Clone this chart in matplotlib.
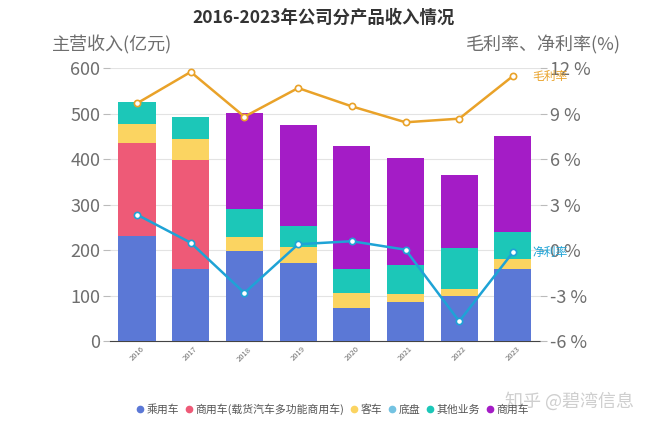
import matplotlib
matplotlib.use("Agg")
import matplotlib.pyplot as plt
from matplotlib.lines import Line2D

plt.rcParams['font.family'] = ['Noto Sans CJK SC', 'DejaVu Sans']

years = ['2016', '2017', '2018', '2019', '2020', '2021', '2022', '2023']
series_names = ['乘用车', '商用车(载货汽车多功能商用车)', '客车', '底盘', '其他业务', '商用车']
passenger = [231, 159, 198, 172, 72, 86, 100, 158]
commercial_old = [205, 239, 0, 0, 0, 0, 0, 0]
bus = [40, 45, 31, 34, 33, 17, 14, 22]
chassis = [0, 0, 0, 0, 0, 0, 0, 0]
other = [50, 49, 61, 47, 54, 65, 90, 59]
commercial = [0, 0, 212, 221, 270, 235, 161, 211]
gross_margin = [9.67, 11.74, 8.79, 10.68, 9.47, 8.42, 8.66, 11.47]
net_margin = [2.33, 0.48, -2.83, 0.38, 0.58, 0.02, -4.70, -0.15]
left_ticks = [0, 100, 200, 300, 400, 500, 600]
right_ticks = [-6, -3, 0, 3, 6, 9, 12]

colors = ['#5B78D6', '#EE5A77', '#FBD461', '#74C3E2', '#1CC7B8', '#A41CC6']
gm_color = '#E9A229'
nm_color = '#1EA3D6'
grey = '#6E6E6E'

fig = plt.figure(figsize=(6.48, 4.32), dpi=100)
ax = fig.add_axes([0.170, 0.2106, 0.663, 0.632])
ax2 = ax.twinx()

x = list(range(len(years)))
data = [passenger, commercial_old, bus, chassis, other, commercial]
bottom = [0] * len(years)
for vals, c in zip(data, colors):
    ax.bar(x, vals, bottom=bottom, width=0.69, color=c, zorder=3)
    bottom = [b + v for b, v in zip(bottom, vals)]

ax.set_xlim(-0.5, 7.5)
ax.set_ylim(0, 600)
ax.set_yticks(left_ticks)
ax.set_yticklabels([str(t) for t in left_ticks], fontsize=13, color=grey)
ax.set_xticks(x)
ax.set_xticklabels(years, rotation=45, fontsize=5.5, color=grey)
ax.grid(axis='y', color='#E3E3E3', linewidth=0.8, zorder=0)
for s in ['top', 'right', 'left']:
    ax.spines[s].set_visible(False)
ax.spines['bottom'].set_color('#444444')
ax.tick_params(axis='y', length=5, color='#BBBBBB', pad=2)
ax.tick_params(axis='x', length=0, pad=3)

ax2.plot(x, gross_margin, color=gm_color, lw=1.8, marker='o', ms=4.5,
         mfc='white', mec=gm_color, mew=1.2, zorder=5)
ax2.plot(x, net_margin, color=nm_color, lw=1.8, marker='o', ms=4.5,
         mfc='white', mec=nm_color, mew=1.2, zorder=5)
ax2.set_ylim(-6, 12)
ax2.set_yticks(right_ticks)
ax2.set_yticklabels([f'{t} %' for t in right_ticks], fontsize=13, color=grey)
ax2.tick_params(axis='y', length=5, color='#BBBBBB', pad=2)
for s in ['top', 'right', 'left', 'bottom']:
    ax2.spines[s].set_visible(False)

ax2.text(7.36, gross_margin[-1], '毛利率', color=gm_color, fontsize=8.5,
         style='italic', va='center', ha='left', zorder=6)
ax2.text(7.36, net_margin[-1], '净利率', color=nm_color, fontsize=8.5,
         style='italic', va='center', ha='left', zorder=6)

fig.text(0.5, 0.958, '2016-2023年公司分产品收入情况', fontsize=12.5,
         fontweight='bold', color='#333333', ha='center', va='center')
fig.text(0.080, 0.895, '主营收入(亿元)', fontsize=13, color=grey, ha='left', va='center')
fig.text(0.958, 0.895, '毛利率、净利率(%)', fontsize=13, color=grey, ha='right', va='center')

handles = [Line2D([0], [0], marker='o', color='none', markerfacecolor=c,
                  markeredgecolor=c, markersize=4.5) for c in colors]
fig.legend(handles, series_names, loc='center', bbox_to_anchor=(0.512, 0.052),
           ncol=6, frameon=False, fontsize=7.8, handletextpad=0.15,
           columnspacing=0.35, handlelength=1.0, labelcolor='#555555')

fig.text(0.978, 0.07, '知乎 @碧湾信息', fontsize=13, color='#CFCFCF',
         ha='right', va='center', zorder=0)

fig.savefig('out.png', dpi=100)
